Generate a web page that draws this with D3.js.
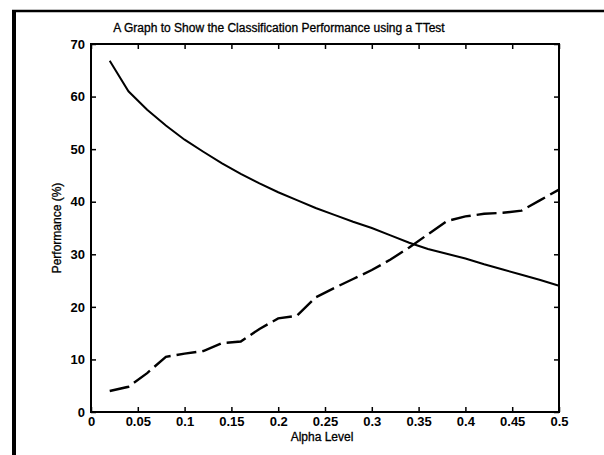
<!DOCTYPE html>
<meta charset="utf-8">
<title>Classification Performance using a TTest</title>
<style>
  body { margin: 0; background: #fff; }
  text { font-family: "Liberation Sans", Arial, sans-serif; fill: #000; }
</style>
<body>
<div id="chart"></div>
<script src="https://d3js.org/d3.v7.min.js"></script>
<script>

// alpha levels on the x axis
var alpha = [0.02, 0.04, 0.06, 0.08, 0.10, 0.12, 0.14, 0.16, 0.18, 0.20, 0.22, 0.24, 0.26,
             0.28, 0.30, 0.32, 0.34, 0.36, 0.38, 0.40, 0.42, 0.44, 0.46, 0.48, 0.50];
// solid curve
var solidVals = [66.8, 61.0, 57.5, 54.5, 51.8, 49.5, 47.3, 45.3, 43.5, 41.8, 40.3, 38.8, 37.5,
                 36.2, 35.0, 33.6, 32.2, 31.0, 30.1, 29.2, 28.1, 27.1, 26.1, 25.1, 24.0];
// dashed curve
var dashedVals = [4.0, 4.8, 7.4, 10.5, 11.1, 11.6, 13.1, 13.4, 15.8, 17.8, 18.3, 21.8, 23.6,
                  25.3, 27.0, 29.0, 31.3, 33.8, 36.3, 37.2, 37.7, 37.9, 38.3, 40.3, 42.3];

var xTicks = [0, 0.05, 0.1, 0.15, 0.2, 0.25, 0.3, 0.35, 0.4, 0.45, 0.5];
var xTickLabels = ["0", "0.05", "0.1", "0.15", "0.2", "0.25", "0.3", "0.35", "0.4", "0.45", "0.5"];
var yTicks = [0, 10, 20, 30, 40, 50, 60, 70];

var W = 604, H = 455;
var margin = {top: 44, right: 45, bottom: 43, left: 91},
    width = W - margin.left - margin.right,
    height = H - margin.top - margin.bottom;

var root = d3.select("#chart").append("svg")
    .attr("width", W)
    .attr("height", H);

// page frame (scanned document edge)
root.append("line").attr("x1", 14).attr("y1", 10).attr("x2", 14).attr("y2", H)
    .attr("stroke", "#000").attr("stroke-width", 4);
root.append("line").attr("x1", 12).attr("y1", 11).attr("x2", W).attr("y2", 11)
    .attr("stroke", "#000").attr("stroke-width", 2.5);

var svg = root.append("g")
    .attr("transform", "translate(" + margin.left + "," + margin.top + ")");

var x = d3.scaleLinear().domain([0, 0.5]).range([0, width]);
var y = d3.scaleLinear().domain([0, 70]).range([height, 0]);

// axes, ticks pointing inwards, on all four sides
function styleAxis(g) {
  g.select(".domain").remove();
  g.selectAll(".tick line").attr("stroke", "#000").attr("stroke-width", 1.5);
  g.selectAll(".tick text").style("font-size", "13px").style("font-weight", "bold");
}

svg.append("g")
    .attr("transform", "translate(0," + height + ")")
    .call(d3.axisBottom(x).tickValues(xTicks)
      .tickFormat(function(d, i) { return xTickLabels[i]; })
      .tickSizeInner(-5).tickSizeOuter(0).tickPadding(5))
    .call(styleAxis);

svg.append("g")
    .call(d3.axisTop(x).tickValues(xTicks).tickFormat("")
      .tickSizeInner(-5).tickSizeOuter(0))
    .call(styleAxis);

svg.append("g")
    .call(d3.axisLeft(y).tickValues(yTicks)
      .tickSizeInner(-5).tickSizeOuter(0).tickPadding(6))
    .call(styleAxis);

svg.append("g")
    .attr("transform", "translate(" + width + ",0)")
    .call(d3.axisRight(y).tickValues(yTicks).tickFormat("")
      .tickSizeInner(-5).tickSizeOuter(0))
    .call(styleAxis);

// box
svg.append("rect")
    .attr("width", width).attr("height", height)
    .attr("fill", "none").attr("stroke", "#000").attr("stroke-width", 2);

var line = d3.line()
    .x(function(d) { return x(d[0]); })
    .y(function(d) { return y(d[1]); });

svg.append("path")
    .datum(d3.zip(alpha, solidVals))
    .attr("d", line)
    .attr("fill", "none").attr("stroke", "#000").attr("stroke-width", 2);

svg.append("path")
    .datum(d3.zip(alpha, dashedVals))
    .attr("d", line)
    .attr("fill", "none").attr("stroke", "#000").attr("stroke-width", 2.4)
    .attr("stroke-dasharray", "20,6");

// title and labels
root.append("text")
    .attr("x", 279).attr("y", 32)
    .attr("text-anchor", "middle")
    .style("font-size", "12px")
    .style("stroke", "#000").style("stroke-width", 0.3)
    .text("A Graph to Show the Classification Performance using a TTest");

root.append("text")
    .attr("x", 322).attr("y", 441)
    .attr("text-anchor", "middle")
    .style("font-size", "12px")
    .style("stroke", "#000").style("stroke-width", 0.3)
    .text("Alpha Level");

root.append("text")
    .attr("transform", "translate(61," + (margin.top + height / 2) + ") rotate(-90)")
    .attr("text-anchor", "middle")
    .style("font-size", "12px")
    .style("stroke", "#000").style("stroke-width", 0.3)
    .text("Performance (%)");

</script>
</body>
